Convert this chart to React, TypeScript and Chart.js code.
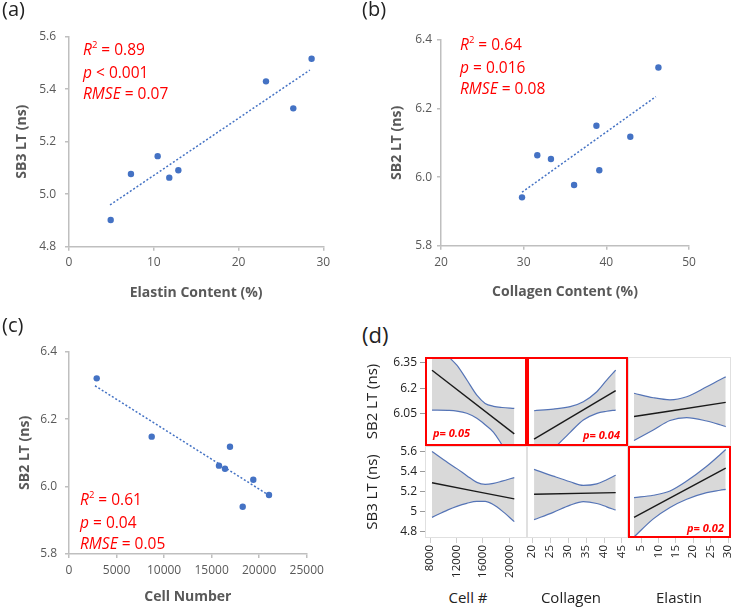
import React, { useEffect, useRef } from 'react';
import { Chart, registerables } from 'chart.js';
Chart.register(...registerables);
Chart.defaults.font.family = "'Open Sans', sans-serif";

// ---------- (a) SB3 LT vs Elastin ----------
const elastinA = [4.92, 7.31, 10.46, 11.83, 12.9, 23.24, 26.46, 28.62];
const sb3A = [4.902, 5.077, 5.145, 5.063, 5.091, 5.43, 5.327, 5.516];
const fitAx = [4.84, 28.42];
const fitAy = [4.959, 5.473];
const xTicksA = [0, 10, 20, 30];
const yTicksA = [4.8, 5.0, 5.2, 5.4, 5.6];

// ---------- (b) SB2 LT vs Collagen ----------
const collagenB = [29.8, 31.65, 33.3, 36.1, 38.8, 39.15, 42.9, 46.3];
const sb2B = [5.941, 6.064, 6.053, 5.977, 6.15, 6.02, 6.118, 6.32];
const fitBx = [29.8, 46.0];
const fitBy = [5.956, 6.235];
const xTicksB = [20, 30, 40, 50];
const yTicksB = [5.8, 6.0, 6.2, 6.4];

// ---------- (c) SB2 LT vs Cell number ----------
const cellC = [2913, 8698, 15776, 16407, 16933, 18269, 19384, 21035];
const sb2C = [6.321, 6.148, 6.062, 6.053, 6.118, 5.94, 6.02, 5.975];
const fitCx = [2735, 20980];
const fitCy = [6.299, 5.975];
const xTicksC = [0, 5000, 10000, 15000, 20000, 25000];
const yTicksC = [5.8, 6.0, 6.2, 6.4];

// ---------- (d) fit + confidence bands ----------
const cellX = [8300, 10700, 12050, 13550, 15070, 16330, 17600, 18870, 20730];
const sb2CellUp = [6.52, 6.39, 6.335, 6.25, 6.16, 6.112, 6.095, 6.088, 6.083];
const sb2CellLo = [6.073, 6.071, 6.067, 6.054, 6.025, 5.987, 5.943, 5.87, 5.76];
const sb2CellFit = [6.306, 5.934];
const sb3CellUp = [5.6, 5.488, 5.43, 5.36, 5.293, 5.273, 5.283, 5.305, 5.341];
const sb3CellLo = [4.945, 5.02, 5.055, 5.085, 5.105, 5.105, 5.07, 5.01, 4.903];
const sb3CellFit = [5.289, 5.129];

const collX = [20.56, 25.9, 30.6, 34.25, 38.0, 40.75, 43.25];
const sb2CollUp = [6.069, 6.079, 6.093, 6.122, 6.18, 6.248, 6.306];
const sb2CollLo = [5.74, 5.845, 5.943, 6.015, 6.054, 6.066, 6.073];
const sb2CollFit = [5.903, 6.186];
const sb3CollUp = [5.423, 5.355, 5.299, 5.264, 5.279, 5.32, 5.364];
const sb3CollLo = [4.923, 4.995, 5.067, 5.102, 5.083, 5.05, 5.018];
const sb3CollFit = [5.175, 5.191];

const elaX = [2.99, 8.53, 13.33, 18.13, 23.88, 27.7, 29.34];
const sb2ElaUp = [6.171, 6.145, 6.133, 6.151, 6.209, 6.25, 6.267];
const sb2ElaLo = [5.895, 5.957, 6.012, 6.029, 6.009, 5.987, 5.976];
const sb2ElaFit = [6.035, 6.118];
const sb3ElaUp = [5.142, 5.165, 5.208, 5.306, 5.453, 5.568, 5.62];
const sb3ElaLo = [4.75, 4.93, 5.044, 5.126, 5.191, 5.215, 5.224];
const sb3ElaFit = [4.946, 5.436];

const cellTicks = [8000, 12000, 16000, 20000];
const collTicks = [20, 25, 30, 35, 40, 45];
const elaTicks = [5, 10, 15, 20, 25, 30];
const sb2Ticks = [6.05, 6.2, 6.35];
const sb3Ticks = [4.8, 5, 5.2, 5.4, 5.6];

const cellRange = [7240, 22650];
const collRange = [18.6, 46.67];
const elaRange = [1.26, 30.86];
const sb2Range = [5.863, 6.383];
const sb3Range = [4.74, 5.655];

// ---------- styles ----------
const BLUE = '#4472C4';
const AXIS = '#bfbfbf';
const TXT = '#595959';
const RED = '#ff0000';
const BAND = '#d9d9d9';
const BANDLINE = '#5574b6';

const pts = (xs: number[], ys: number[]) => xs.map((x, i) => ({ x, y: ys[i] }));
const fixTicks = (vals: number[]) => (s: any) => { s.ticks = vals.map((v) => ({ value: v })); };

function scatterCfg(o: any) {
  return {
    type: 'scatter',
    data: {
      datasets: [
        { data: pts(o.x, o.y), pointRadius: 3.2, pointBackgroundColor: BLUE, pointBorderWidth: 0, showLine: false },
        { data: pts(o.tx, o.ty), showLine: true, pointRadius: 0, borderColor: BLUE, borderWidth: 1.5, borderDash: [2, 2], fill: false },
      ],
    },
    options: {
      animation: false,
      responsive: false,
      events: [],
      layout: { padding: { top: o.pt, right: o.pr, left: 0, bottom: 0 }, autoPadding: false },
      plugins: { legend: { display: false }, tooltip: { enabled: false } },
      scales: {
        x: {
          type: 'linear', position: 'bottom', min: o.xr[0], max: o.xr[1],
          afterBuildTicks: fixTicks(o.xt),
          ticks: { callback: (v: any) => String(v), color: TXT, font: { size: 12 }, padding: o.xtp, maxRotation: 0, autoSkip: false },
          grid: { drawOnChartArea: false, drawTicks: true, tickLength: 4, color: AXIS, lineWidth: 1.5 },
          border: { display: true, color: AXIS, width: 1.5 },
          title: { display: true, text: o.xTitle, color: TXT, font: { size: 14, weight: 'bold' }, padding: { top: 0, bottom: o.xtt } },
          afterFit: (s: any) => { s.height = o.xh; s.paddingLeft = 0; s.paddingRight = 0; },
        },
        y: {
          type: 'linear', position: 'left', min: o.yr[0], max: o.yr[1],
          afterBuildTicks: fixTicks(o.yt),
          ticks: { callback: (v: any) => Number(v).toFixed(1), color: TXT, font: { size: 12 }, padding: o.ytp, autoSkip: false },
          grid: { drawOnChartArea: false, drawTicks: true, tickLength: 4, color: AXIS, lineWidth: 1.5 },
          border: { display: true, color: AXIS, width: 1.5 },
          title: { display: true, text: o.yTitle, color: TXT, font: { size: 14, weight: 'bold' }, padding: { top: o.ytt, bottom: 0 } },
          afterFit: (s: any) => { s.width = o.yw; s.paddingTop = 0; s.paddingBottom = 0; },
        },
      },
    },
  };
}

const cellBoxPlugin = {
  id: 'cellBox',
  afterDatasetsDraw(chart: any, _args: any, opts: any) {
    const { ctx, chartArea: a } = chart;
    ctx.save();
    if (opts.red) {
      ctx.strokeStyle = RED;
      ctx.lineWidth = 2;
      ctx.strokeRect(a.left + 1, a.top + 1, a.right - a.left - 2, a.bottom - a.top - 2);
    } else {
      ctx.strokeStyle = '#e0e0e0';
      ctx.lineWidth = 1;
      ctx.strokeRect(a.left + 0.5, a.top + 0.5, a.right - a.left - 1, a.bottom - a.top - 1);
    }
    ctx.restore();
  },
};

function cellCfg(o: any) {
  const ln = (xs: number[], ys: number[], color: string, w: number, fill: any) => ({
    data: pts(xs, ys), borderColor: color, borderWidth: w, pointRadius: 0, fill,
    backgroundColor: BAND, cubicInterpolationMode: 'monotone', clip: 0,
  });
  const fx = [o.xs[0], o.xs[o.xs.length - 1]];
  const x = o.showX
    ? {
        type: 'linear', position: 'bottom', min: o.xr[0], max: o.xr[1],
        afterBuildTicks: fixTicks(o.xt),
        ticks: { callback: (v: any) => String(v), color: '#222', font: { size: 11.5 }, padding: 2, minRotation: 90, maxRotation: 90, autoSkip: false },
        grid: { drawOnChartArea: false, drawTicks: true, tickLength: 5, color: '#cfcfcf' },
        border: { display: false },
        afterFit: (s: any) => { s.height = 47; s.paddingLeft = 0; s.paddingRight = 0; },
      }
    : { type: 'linear', display: false, min: o.xr[0], max: o.xr[1] };
  const y = o.showY
    ? {
        type: 'linear', position: 'left', min: o.yr[0], max: o.yr[1],
        afterBuildTicks: fixTicks(o.yt),
        ticks: { callback: (v: any) => String(v), color: '#222', font: { size: 12 }, padding: 3, autoSkip: false },
        grid: { drawOnChartArea: false, drawTicks: true, tickLength: 5, color: '#9a9a9a' },
        border: { display: false },
        title: { display: true, text: o.yTitle, color: '#222', font: { size: 15 }, padding: { top: 2, bottom: 0 } },
        afterFit: (s: any) => { s.width = 63; s.paddingTop = 0; s.paddingBottom = 0; },
      }
    : { type: 'linear', display: false, min: o.yr[0], max: o.yr[1] };
  return {
    type: 'line',
    data: {
      datasets: [
        ln(o.xs, o.up, BANDLINE, 1.2, '+1'),
        ln(o.xs, o.lo, BANDLINE, 1.2, false),
        ln(fx, o.fit, '#1a1a1a', 1.4, false),
      ],
    },
    options: {
      animation: false,
      responsive: false,
      events: [],
      layout: { padding: o.pad, autoPadding: false },
      plugins: {
        legend: { display: false },
        tooltip: { enabled: false },
        filler: { drawTime: 'beforeDatasetsDraw' },
        cellBox: { red: o.red },
      },
      scales: { x, y },
    },
    plugins: [cellBoxPlugin],
  };
}

function ChartBox({ left, top, width, height, config }: any) {
  const ref = useRef<HTMLCanvasElement>(null);
  useEffect(() => {
    const chart = new Chart(ref.current as HTMLCanvasElement, config);
    return () => chart.destroy();
  }, []);
  return (
    <canvas ref={ref} width={width} height={height}
      style={{ position: 'absolute', left, top, width, height, display: 'block' }} />
  );
}

const sup: any = { position: 'relative', top: -7, fontSize: 9.5 };

function Stats({ left, top, r2, p }: any) {
  return (
    <div style={{ position: 'absolute', left, top, color: RED, fontFamily: "'Open Sans', sans-serif", fontSize: 15.5, lineHeight: '20.5px', whiteSpace: 'nowrap' }}>
      <div><i>R</i><span style={sup}>2</span> = {r2}</div>
      <div><i>p</i> {p}</div>
      <div><i>RMSE</i> = {p === '< 0.001' ? '0.07' : left > 300 ? '0.08' : '0.05'}</div>
    </div>
  );
}

function Txt({ style, children }: any) {
  return <div style={{ position: 'absolute', fontFamily: "'Open Sans', sans-serif", whiteSpace: 'nowrap', ...style }}>{children}</div>;
}

export default function App() {
  const cfgA = scatterCfg({ x: elastinA, y: sb3A, tx: fitAx, ty: fitAy, xr: [0, 30], yr: [4.8, 5.6], xt: xTicksA, yt: yTicksA,
    xTitle: 'Elastin Content (%)', yTitle: 'SB3 LT (ns)', pt: 36.7, pr: 21.7, yw: 69, xh: 58.3, ytt: 13.6, xtt: 3.6, ytp: 9, xtp: 5 });
  const cfgB = scatterCfg({ x: collagenB, y: sb2B, tx: fitBx, ty: fitBy, xr: [20, 50], yr: [5.8, 6.4], xt: xTicksB, yt: yTicksB,
    xTitle: 'Collagen Content (%)', yTitle: 'SB2 LT (ns)', pt: 40, pr: 43, yw: 81, xh: 59.3, ytt: 28.6, xtt: 4.6, ytp: 5, xtp: 6 });
  const cfgC = scatterCfg({ x: cellC, y: sb2C, tx: fitCx, ty: fitCy, xr: [0, 25000], yr: [5.8, 6.4], xt: xTicksC, yt: yTicksC,
    xTitle: 'Cell Number', yTitle: 'SB2 LT (ns)', pt: 51.7, pr: 38.3, yw: 69, xh: 54, ytt: 16.6, xtt: 2.6, ytp: 8, xtp: 5 });

  const d11 = cellCfg({ xs: cellX, up: sb2CellUp, lo: sb2CellLo, fit: sb2CellFit, xr: cellRange, yr: sb2Range, yt: sb2Ticks, showY: true, yTitle: 'SB2 LT (ns)', red: true, pad: { left: 0, right: 0, top: 0, bottom: 0 } });
  const d12 = cellCfg({ xs: collX, up: sb2CollUp, lo: sb2CollLo, fit: sb2CollFit, xr: collRange, yr: sb2Range, red: true, pad: { left: 0, right: 0, top: 0, bottom: 0 } });
  const d13 = cellCfg({ xs: elaX, up: sb2ElaUp, lo: sb2ElaLo, fit: sb2ElaFit, xr: elaRange, yr: sb2Range, red: false, pad: { left: 0, right: 0, top: 0, bottom: 0 } });
  const d21 = cellCfg({ xs: cellX, up: sb3CellUp, lo: sb3CellLo, fit: sb3CellFit, xr: cellRange, yr: sb3Range, yt: sb3Ticks, xt: cellTicks, showY: true, showX: true, yTitle: 'SB3 LT (ns)', red: false, pad: { left: 0, right: 8, top: 0, bottom: 0 } });
  const d22 = cellCfg({ xs: collX, up: sb3CollUp, lo: sb3CollLo, fit: sb3CollFit, xr: collRange, yr: sb3Range, xt: collTicks, showX: true, red: false, pad: { left: 8, right: 8, top: 0, bottom: 0 } });
  const d23 = cellCfg({ xs: elaX, up: sb3ElaUp, lo: sb3ElaLo, fit: sb3ElaFit, xr: elaRange, yr: sb3Range, xt: elaTicks, showX: true, red: true, pad: { left: 8, right: 1, top: 0, bottom: 0 } });

  const pStyle = { color: RED, fontSize: 11, fontWeight: 700, fontStyle: 'italic', lineHeight: '14px' };
  const colTitle = { fontSize: 15, color: '#222', lineHeight: '20px', transform: 'translateX(-50%)' };

  return (
    <div style={{ position: 'absolute', left: 0, top: 0, width: 732, height: 608, background: '#fff', overflow: 'hidden' }}>
      <ChartBox left={0} top={0} width={345} height={305} config={cfgA} />
      <ChartBox left={360} top={0} width={372} height={305} config={cfgB} />
      <ChartBox left={0} top={300} width={345} height={308} config={cfgC} />

      <ChartBox left={362} top={357} width={165} height={89} config={d11} />
      <ChartBox left={527} top={357} width={101} height={89} config={d12} />
      <ChartBox left={628} top={357} width={103} height={89} config={d13} />
      <ChartBox left={362} top={446} width={173} height={139} config={d21} />
      <ChartBox left={519} top={446} width={117} height={139} config={d22} />
      <ChartBox left={620} top={446} width={112} height={139} config={d23} />

      <Txt style={{ left: 2, top: -3, fontSize: 20, lineHeight: '24px', color: '#222' }}>(a)</Txt>
      <Txt style={{ left: 362, top: -3, fontSize: 20, lineHeight: '24px', color: '#222' }}>(b)</Txt>
      <Txt style={{ left: 2, top: 313, fontSize: 20, lineHeight: '24px', color: '#222' }}>(c)</Txt>
      <Txt style={{ left: 362, top: 320, fontSize: 22, lineHeight: '28px', color: '#222' }}>(d)</Txt>

      <Stats left={83} top={38.5} r2="0.89" p="< 0.001" />
      <Stats left={460} top={33.5} r2="0.64" p="= 0.016" />
      <Stats left={80} top={488.5} r2="0.61" p="= 0.04" />

      <Txt style={{ left: 433, top: 426, ...pStyle }}>p= 0.05</Txt>
      <Txt style={{ right: 112, top: 428, ...pStyle }}>p= 0.04</Txt>
      <Txt style={{ right: 8, top: 521, ...pStyle }}>p= 0.02</Txt>

      <Txt style={{ left: 468, top: 587, ...colTitle }}>Cell #</Txt>
      <Txt style={{ left: 571, top: 587, ...colTitle }}>Collagen</Txt>
      <Txt style={{ left: 679, top: 587, ...colTitle }}>Elastin</Txt>
    </div>
  );
}
